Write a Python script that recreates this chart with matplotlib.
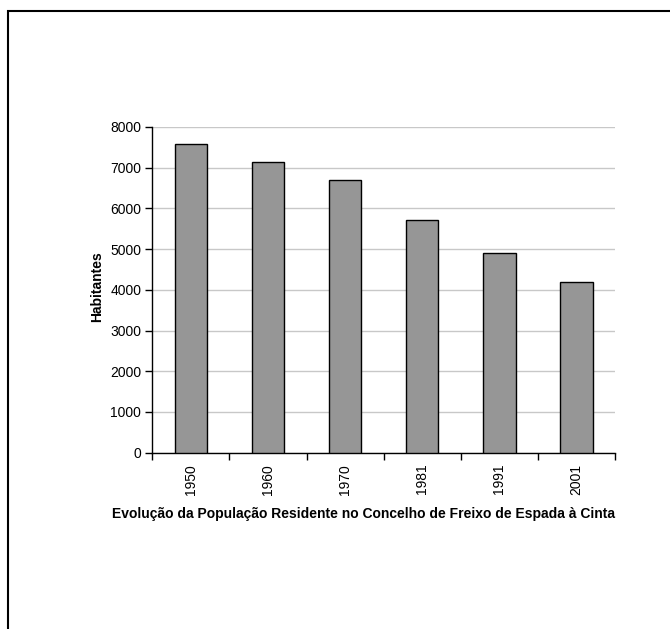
import matplotlib
matplotlib.use("Agg")
import matplotlib.pyplot as plt
from matplotlib.patches import Rectangle
import numpy as np

plt.rcParams['font.family'] = ['Liberation Sans', 'DejaVu Sans']

years = ["1950", "1960", "1970", "1981", "1991", "2001"]
habitantes = [7590, 7145, 6700, 5725, 4915, 4195]
y_ticks = [0, 1000, 2000, 3000, 4000, 5000, 6000, 7000, 8000]

fig = plt.figure(figsize=(6.70, 6.29), dpi=100)

# outer chart-area frame (runs off the right and bottom edges)
fig.patches.append(Rectangle((7.5 / 670, -0.05), 1.1, 1 - 10.5 / 629 + 0.05,
                             transform=fig.transFigure, fill=False,
                             edgecolor='black', linewidth=1.5))

ax = fig.add_axes([152.3 / 670, 1 - 452.7 / 629, (615 - 152.3) / 670, (452.7 - 127) / 629])

x = np.arange(len(years))
ax.bar(x, habitantes, width=0.42, color='#969696', edgecolor='black', linewidth=1.0, zorder=3)

ax.set_xlim(-0.5, len(years) - 0.5)
ax.set_ylim(0, 8000)
ax.set_yticks(y_ticks)
ax.set_yticklabels([str(v) for v in y_ticks], fontsize=10)
ax.yaxis.grid(True, color='#c8c8c8', linewidth=1.0, zorder=0)

ax.set_xticks(x)
ax.set_xticklabels(years, rotation=90, fontsize=10)
ax.tick_params(axis='x', length=0, pad=8)
ax.set_xticks(np.arange(-0.5, len(years)), minor=True)
ax.tick_params(axis='x', which='minor', length=5, width=1, direction='out')
ax.tick_params(axis='y', length=5, width=1, direction='out', pad=3)

for side in ['top', 'right']:
    ax.spines[side].set_visible(False)
ax.spines['left'].set_linewidth(1)
ax.spines['bottom'].set_linewidth(1)

fig.text(97 / 670, 1 - 287 / 629, "Habitantes", rotation=90,
         ha='center', va='center', fontsize=10, fontweight='bold')
fig.text(363 / 670, 1 - 514 / 629,
         "Evolução da População Residente no Concelho de Freixo de Espada à Cinta",
         ha='center', va='center', fontsize=10, fontweight='bold')

fig.savefig("out.png", dpi=100)
